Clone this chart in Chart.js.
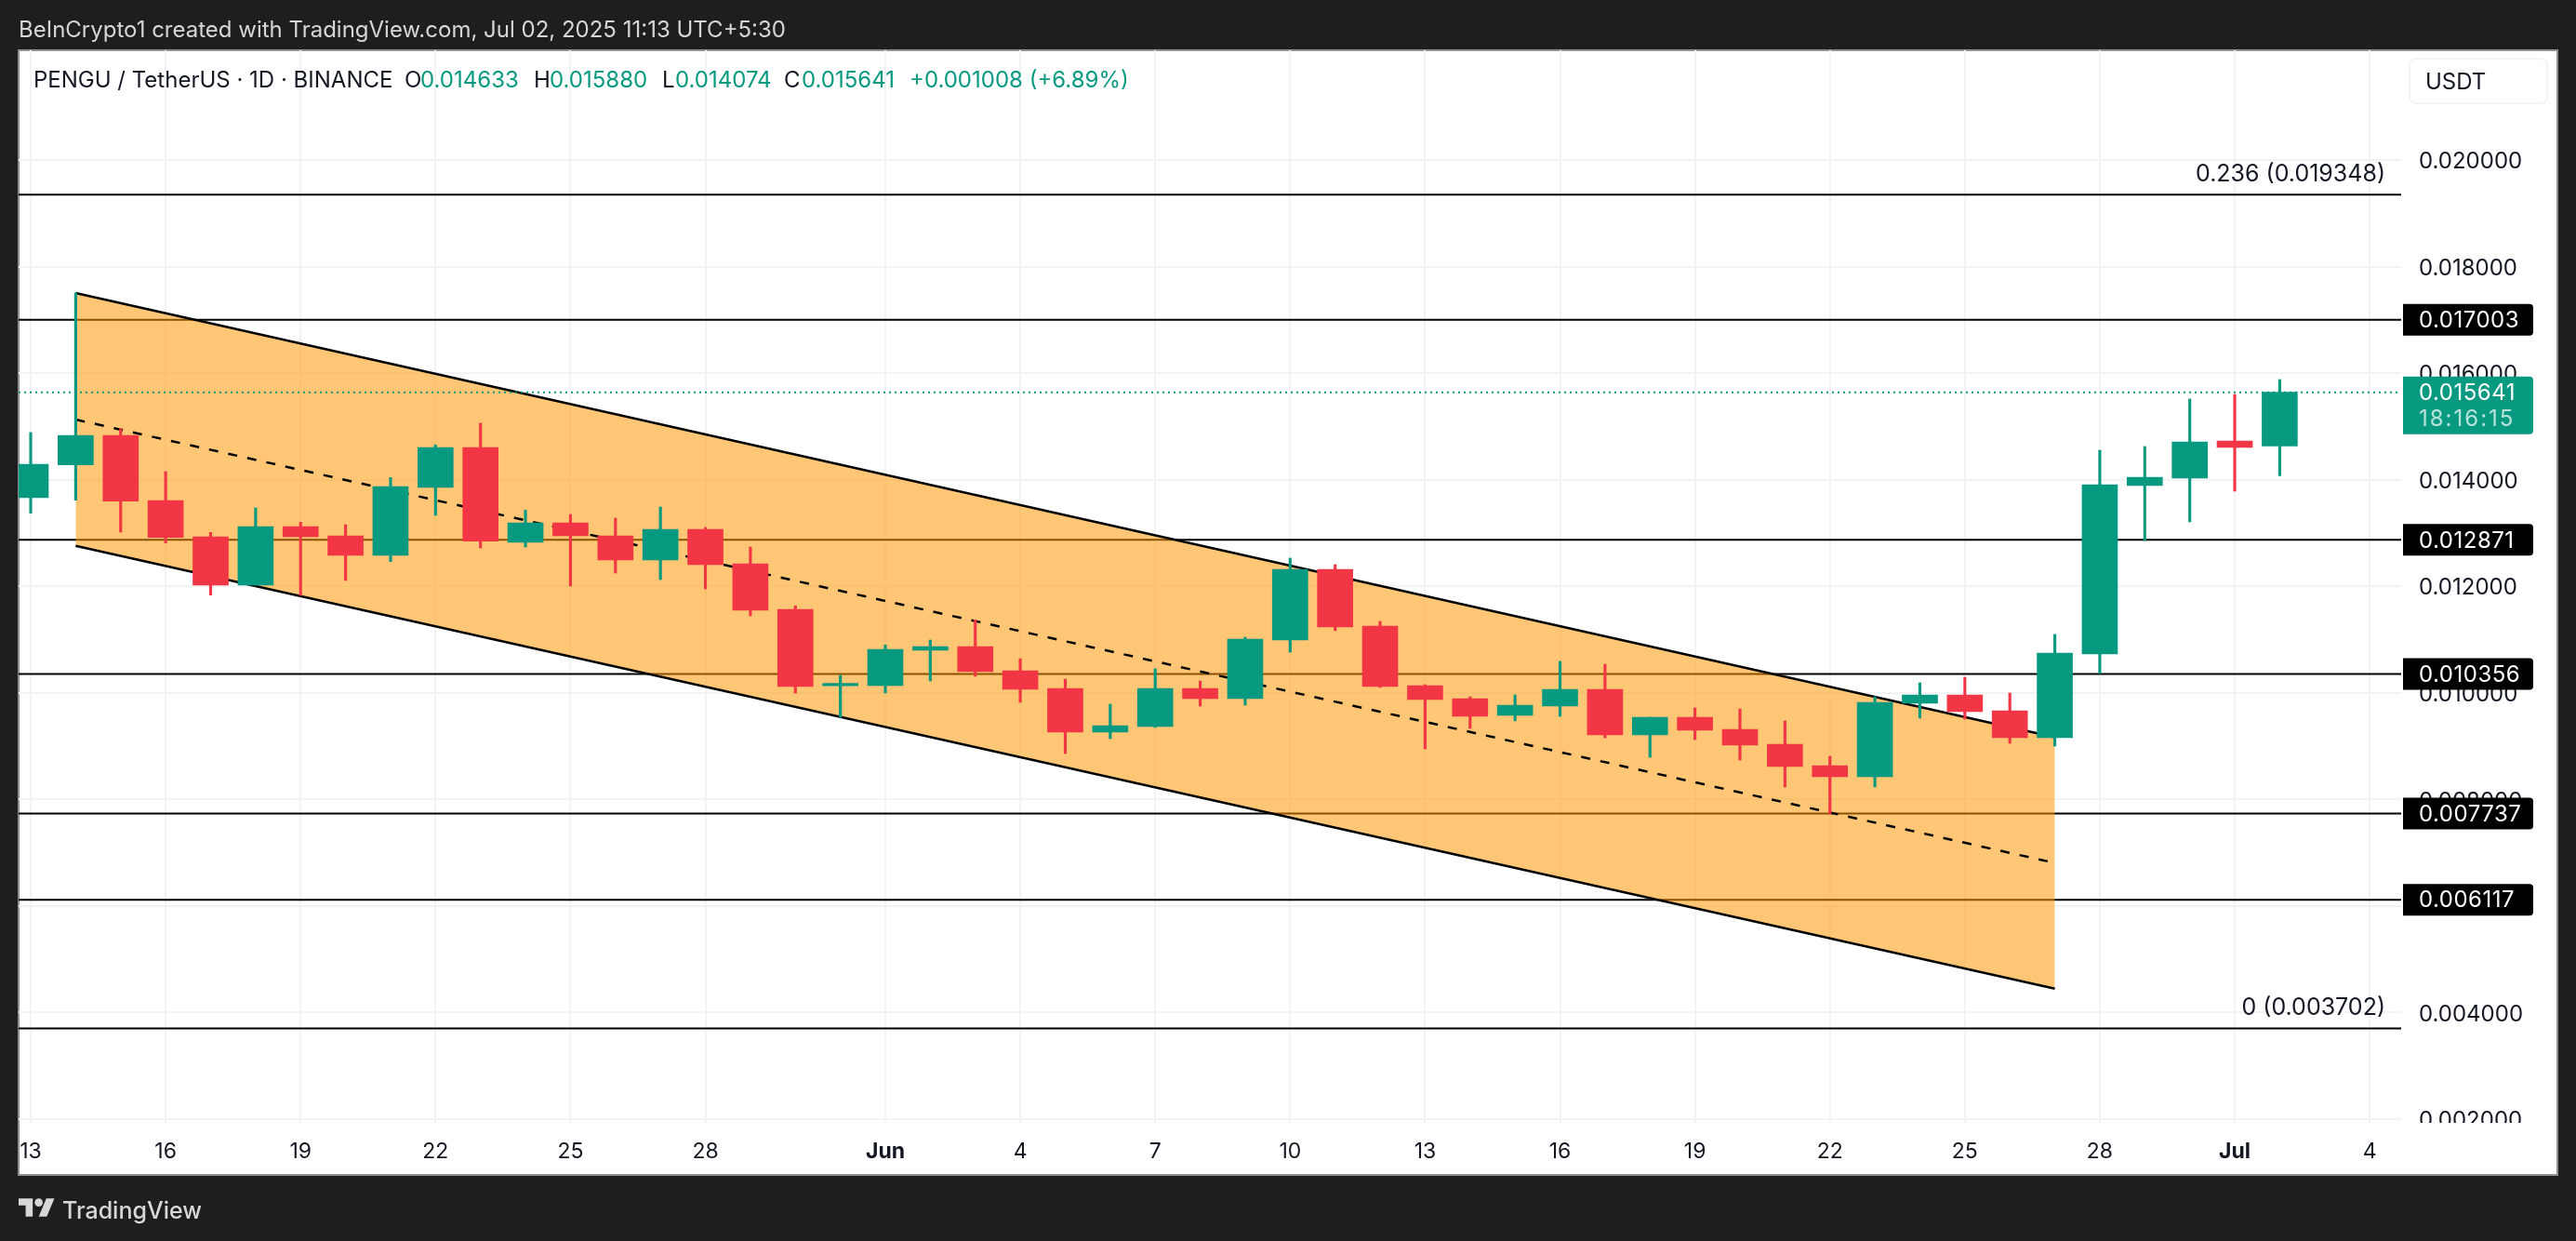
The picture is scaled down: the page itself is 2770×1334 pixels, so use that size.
<!DOCTYPE html>
<html>
<head>
<meta charset="utf-8">
<title>PENGU / TetherUS</title>
<script src="https://cdn.jsdelivr.net/npm/chart.js@4/dist/chart.umd.min.js"></script>
<style>
  html, body { margin: 0; padding: 0; background: #1e1e1e; overflow: hidden; }
  body { width: 2770px; height: 1334px; position: relative; font-family: Inter, sans-serif; }
  canvas { position: absolute; left: 0; top: 0; }
  .t { position: absolute; white-space: nowrap; line-height: 30px; height: 30px; font-size: 24px; color: #131722; }
  .g { color: #089981; }
  .usdt { position: absolute; left: 2590px; top: 62px; width: 150px; height: 50px; box-sizing: border-box;
          border: 2px solid #f3f4f6; border-radius: 8px; }
  .logo { position: absolute; left: 20px; top: 1288px; }
</style>
</head>
<body>
<canvas id="chart" width="2770" height="1334"></canvas>

<div class="t" style="left:20px;top:17px;color:#d6d6d6">BeInCrypto1 created with TradingView.com, Jul 02, 2025 11:13 UTC+5:30</div>

<div class="t" style="left:36px;top:71px">PENGU / TetherUS · 1D · BINANCE</div>
<div class="t" style="left:435px;top:71px">O</div>
<div class="t g" style="left:452px;top:71px">0.014633</div>
<div class="t" style="left:574px;top:71px">H</div>
<div class="t g" style="left:591px;top:71px">0.015880</div>
<div class="t" style="left:712px;top:71px">L</div>
<div class="t g" style="left:726px;top:71px">0.014074</div>
<div class="t" style="left:843px;top:71px">C</div>
<div class="t g" style="left:862px;top:71px">0.015641</div>
<div class="t g" style="left:978px;top:71px">+0.001008 (+6.89%)</div>

<div class="usdt"></div>
<div class="t" style="left:2608px;top:73px">USDT</div>

<svg class="logo" width="39" height="20" viewBox="0 4 36 18" fill="#d8d8d8">
  <path d="M14 22H7V11H0V4h14v18zM28 22h-8l7.5-18h8L28 22z"/><circle cx="20" cy="8" r="4"/>
</svg>
<div class="t" style="left:67px;top:1286px;font-size:25px;font-weight:500;color:#d8d8d8">TradingView</div>

<script>
// Candles, one per day, day 0 = May 13
const opens = [0.013663, 0.014279, 0.014832, 0.013610, 0.012929, 0.012021, 0.013121, 0.012947, 0.012580, 0.013855, 0.014605,
  0.012825, 0.013191, 0.012947, 0.012493, 0.013069, 0.012423, 0.011568, 0.010131, 0.010136, 0.010799, 0.010869, 0.010415,
  0.010084, 0.009263, 0.009368, 0.010084, 0.009891, 0.010991, 0.012318, 0.011253, 0.010136, 0.009891, 0.009577, 0.009752,
  0.010066, 0.009211, 0.009542, 0.009315, 0.009036, 0.008634, 0.008425, 0.009804, 0.009961, 0.009664, 0.009158, 0.010730,
  0.013890, 0.014029, 0.014728, 0.014633];
const highs = [0.014885, 0.017504, 0.014960, 0.014152, 0.013011, 0.013471, 0.013203, 0.013156, 0.014041, 0.014653, 0.015059,
  0.013430, 0.013348, 0.013279, 0.013488, 0.013104, 0.012737, 0.011632, 0.010328, 0.010899, 0.010991, 0.011370, 0.010642,
  0.010258, 0.009787, 0.010450, 0.010223, 0.011044, 0.012528, 0.012406, 0.011341, 0.010153, 0.009926, 0.009961, 0.010590,
  0.010537, 0.009542, 0.009717, 0.009699, 0.009473, 0.008809, 0.009926, 0.010188, 0.010293, 0.009996, 0.011096, 0.014553,
  0.014623, 0.015513, 0.015601, 0.015880];
const lows = [0.013371, 0.013615, 0.013017, 0.012812, 0.011835, 0.012021, 0.011829, 0.012109, 0.012463, 0.013331, 0.012720,
  0.012737, 0.012004, 0.012248, 0.012126, 0.011952, 0.011445, 0.009996, 0.009542, 0.009996, 0.010223, 0.010310, 0.009822,
  0.008861, 0.009141, 0.009350, 0.009752, 0.009769, 0.010764, 0.011166, 0.010101, 0.008949, 0.009333, 0.009473, 0.009560,
  0.009158, 0.008792, 0.009123, 0.008739, 0.008233, 0.007727, 0.008233, 0.009525, 0.009507, 0.009053, 0.009001, 0.010363,
  0.012859, 0.013209, 0.013785, 0.014074];
const closes = [0.014291, 0.014832, 0.013598, 0.012917, 0.012021, 0.013121, 0.012929, 0.012580, 0.013872, 0.014605, 0.012847,
  0.013191, 0.012947, 0.012493, 0.013069, 0.012406, 0.011550, 0.010118, 0.010176, 0.010817, 0.010869, 0.010398, 0.010066,
  0.009263, 0.009385, 0.010084, 0.009891, 0.011009, 0.012318, 0.011236, 0.010118, 0.009874, 0.009560, 0.009769, 0.010066,
  0.009211, 0.009542, 0.009298, 0.009019, 0.008617, 0.008425, 0.009822, 0.009961, 0.009647, 0.009158, 0.010747, 0.013907,
  0.014047, 0.014710, 0.014605, 0.015641];

// Axis ticks
const dayTicks = [0, 3, 6, 9, 12, 15, 19, 22, 25, 28, 31, 34, 37, 40, 43, 46, 49, 52];
const dayLabels = ["13", "16", "19", "22", "25", "28", "Jun", "4", "7", "10", "13", "16", "19", "22", "25", "28", "Jul", "4"];
const monthLabels = ["Jun", "Jul"];
const priceTicks = [0.002, 0.004, 0.006, 0.008, 0.010, 0.012, 0.014, 0.016, 0.018, 0.020];

// Horizontal levels
const badgeLevels = [0.017003, 0.012871, 0.010356, 0.007737, 0.006117];
const fibLevels = [0.019348, 0.003702];
const fibLabels = ["0.236 (0.019348)", "0 (0.003702)"];
const lastPrice = 0.015641;
const countdown = "18:16:15";

// Falling channel: day of both ends, then price at each end
const channelDays = [1, 45];
const channelUpper = [0.017504, 0.009167];
const channelMiddle = [0.015129, 0.006808];
const channelLower = [0.012760, 0.004448];

const GREEN = "#089981";
const RED = "#f23645";
const BLACK = "#000000";
const FONT = "Inter, sans-serif";
const X_MIN = -0.269;
const X_MAX = 52.7;

const days = opens.map((_, i) => i);
const candleColors = days.map((i) => (closes[i] >= opens[i] ? GREEN : RED));
const toPoints = (xs, ys) => xs.map((x, i) => ({ x, y: ys[i] }));

const levelLine = (price) => ({
  type: "line",
  data: toPoints([X_MIN, X_MAX], [price, price]),
  borderColor: BLACK,
  borderWidth: 2,
  pointRadius: 0,
  order: 10,
});

const channelLine = (prices, extra) => ({
  type: "line",
  data: toPoints(channelDays, prices),
  borderColor: BLACK,
  borderWidth: 2.5,
  pointRadius: 0,
  order: 7,
  ...extra,
});

// Background, panel and the bits the axes can't draw
const framePlugin = {
  id: "frame",
  beforeDraw(chart) {
    const { ctx, width, height } = chart;
    ctx.save();
    ctx.fillStyle = "#1e1e1e";
    ctx.fillRect(0, 0, width, height);
    ctx.fillStyle = "#ffffff";
    ctx.strokeStyle = "#8f8f8f";
    ctx.lineWidth = 2;
    ctx.fillRect(20, 54, 2730, 1209);
    ctx.strokeRect(20, 54, 2730, 1209);
    ctx.restore();
  },
  afterDraw(chart) {
    const { ctx, chartArea } = chart;
    const y = chart.scales.y;
    ctx.save();

    // the lowest price label is cut off by the time axis
    ctx.fillStyle = "#ffffff";
    ctx.fillRect(chartArea.right, chartArea.bottom, 165, 54);

    ctx.textBaseline = "middle";
    ctx.font = `25px ${FONT}`;

    fibLevels.forEach((price, i) => {
      ctx.fillStyle = "#131722";
      ctx.textAlign = "right";
      ctx.fillText(fibLabels[i], 2565, y.getPixelForValue(price) - 22);
    });

    ctx.font = `24px ${FONT}`;
    ctx.letterSpacing = "0.5px";
    ctx.textAlign = "left";
    badgeLevels.forEach((price) => {
      const py = y.getPixelForValue(price);
      ctx.fillStyle = "#000000";
      ctx.beginPath();
      ctx.roundRect(2584, py - 17, 140, 34, [0, 4, 4, 0]);
      ctx.fill();
      ctx.fillStyle = "#ffffff";
      ctx.fillText(price.toFixed(6), 2601, py + 1);
    });

    const py = y.getPixelForValue(lastPrice);
    ctx.fillStyle = GREEN;
    ctx.beginPath();
    ctx.roundRect(2584, py - 17, 140, 62, [0, 4, 4, 0]);
    ctx.fill();
    ctx.fillStyle = "#ffffff";
    ctx.fillText(lastPrice.toFixed(6), 2601, py + 1);
    ctx.fillStyle = "#b5e3d9";
    ctx.letterSpacing = "2px";
    ctx.fillText(countdown, 2601, py + 29);
    ctx.restore();
  },
};

new Chart(document.getElementById("chart"), {
  type: "bar",
  plugins: [framePlugin],
  data: {
    datasets: [
      ...[...badgeLevels, ...fibLevels].map(levelLine),
      channelLine(channelLower, {}),
      channelLine(channelUpper, { fill: { target: "-1" }, backgroundColor: "rgba(255, 152, 0, 0.54)" }),
      channelLine(channelMiddle, { borderDash: [10, 11], order: 6 }),
      {
        type: "line",
        data: toPoints([X_MIN, X_MAX], [lastPrice, lastPrice]),
        borderColor: GREEN,
        borderWidth: 2,
        borderDash: [2, 4],
        pointRadius: 0,
        order: 5,
      },
      {
        data: days.map((i) => ({ x: i, y: [lows[i], highs[i]] })),
        backgroundColor: candleColors,
        barThickness: 2.5,
        grouped: false,
        order: 2,
      },
      {
        data: days.map((i) => ({ x: i, y: [opens[i], closes[i]] })),
        backgroundColor: candleColors,
        barThickness: 38,
        grouped: false,
        order: 1,
      },
    ],
  },
  options: {
    responsive: false,
    devicePixelRatio: 1,
    animation: false,
    layout: { padding: { left: 20, top: 54, right: 20, bottom: 71 } },
    plugins: { legend: { display: false }, tooltip: { enabled: false } },
    scales: {
      x: {
        type: "linear",
        offset: false,
        min: X_MIN,
        max: X_MAX,
        border: { display: false },
        grid: { color: "#f2f3f4", lineWidth: 2, drawTicks: false, offset: false },
        afterBuildTicks: (axis) => { axis.ticks = dayTicks.map((value) => ({ value })); },
        afterFit: (axis) => { axis.height = 56; },
        ticks: {
          autoSkip: false,
          maxRotation: 0,
          padding: 17,
          color: "#131722",
          font: (c) => ({
            family: FONT,
            size: 23,
            weight: monthLabels.includes(dayLabels[dayTicks.indexOf(c.tick && c.tick.value)]) ? "700" : "400",
          }),
          callback: (value) => dayLabels[dayTicks.indexOf(value)],
        },
      },
      y: {
        type: "linear",
        position: "right",
        min: 0.00193,
        max: 0.02206,
        border: { display: false },
        grid: { color: "#f2f3f4", lineWidth: 2, drawTicks: false },
        afterBuildTicks: (axis) => { axis.ticks = priceTicks.map((value) => ({ value })); },
        afterFit: (axis) => { axis.width = 168; },
        ticks: {
          padding: 19,
          crossAlign: "near",
          labelOffset: 2,
          color: "#131722",
          font: { family: FONT, size: 24 },
          callback: (value) => value.toFixed(6),
        },
      },
    },
  },
});
</script>
</body>
</html>
